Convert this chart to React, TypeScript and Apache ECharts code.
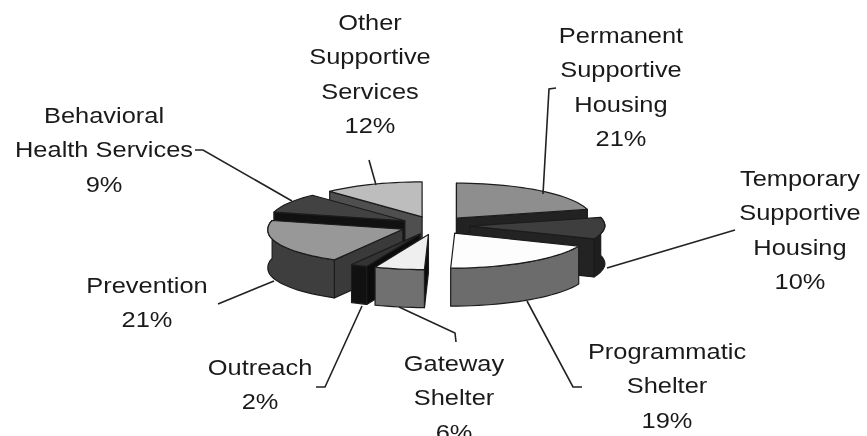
import React, { useEffect, useRef } from "react";
import * as echarts from "echarts";

const names = [
  "Permanent\nSupportive\nHousing",
  "Temporary\nSupportive\nHousing",
  "Programmatic\nShelter",
  "Gateway\nShelter",
  "Outreach",
  "Prevention",
  "Behavioral\nHealth Services",
  "Other\nSupportive\nServices",
];
const values = [21, 10, 19, 6, 2, 21, 9, 12];
const topColors = ["#8e8e8e", "#3e3e3e", "#fdfdfd", "#efefef", "#333333", "#989898", "#424242", "#bdbdbd"];
const wallColors = ["#2a2a2a", "#1e1e1e", "#6c6c6c", "#707070", "#111111", "#3e3e3e", "#222222", "#555555"];
const faceColors = ["#222222", "#232323", "#333333", "#0c0c0c", "#0c0c0c", "#3a3a3a", "#111111", "#4f4f4f"];

// [x centre, y of first line centre]
const labelAnchors = [
  [621, 35], [800, 178], [667, 351], [454, 363], [260, 367], [147, 285], [104, 115], [370, 22],
];
const leaders = [
  [[556, 88], [549, 89], [543, 194]],
  [[735, 230], [607, 268]],
  [[582, 387], [573, 387], [527, 301]],
  [[456, 342], [455, 333], [399, 307]],
  [[316, 387], [325, 387], [362, 306]],
  [[218, 304], [274, 281]],
  [[195, 150], [203, 150], [292, 201]],
  [[369, 160], [376, 185]],
];

const CX = 435, CY = 225.5, EXPLODE = 35, TILT = 0.265, RX = 135, RY = 35, DEPTH = 38, LEAN = 4;
const TEXT_STRETCH = 1.13;
const rad = (d: number) => (d * Math.PI) / 180;
const total = values.reduce((a, b) => a + b, 0);

function sliceAngles(i: number) {
  let sum = 0;
  for (let k = 0; k < i; k++) sum += values[k];
  return [(sum / total) * 360, ((sum + values[i]) / total) * 360];
}

function renderSlice(params: any, api: any) {
  const i = api.value(1) as number;
  const [a1, a2] = sliceAngles(i);
  const mid = (a1 + a2) / 2;
  const ax = CX + EXPLODE * Math.sin(rad(mid));
  const ay = CY - EXPLODE * TILT * Math.cos(rad(mid));
  const rim = (deg: number, dz = 0) => [
    ax + RX * Math.sin(rad(deg)) + LEAN * Math.min(0, Math.cos(rad(deg))),
    ay - RY * Math.cos(rad(deg)) + dz,
  ];
  const arc = (from: number, to: number, dz = 0) => {
    const n = Math.max(2, Math.ceil((to - from) / 3));
    const pts: number[][] = [];
    for (let k = 0; k <= n; k++) pts.push(rim(from + ((to - from) * k) / n, dz));
    return pts;
  };
  const stroke = { stroke: "#1c1c1c", lineWidth: 1.2, lineJoin: "round" };
  const children: any[] = [];
  const radial = (deg: number) => {
    const p = rim(deg), q = rim(deg, DEPTH);
    children.push({
      type: "polygon",
      shape: { points: [[ax, ay], p, q, [ax, ay + DEPTH]] },
      style: { fill: faceColors[i], ...stroke },
    });
  };
  if (Math.sin(rad(a1)) < 0.01) radial(a1);
  if (Math.sin(rad(a2)) > 0.01) radial(a2);
  const w1 = Math.max(a1, 75), w2 = Math.min(a2, 285);
  if (w2 > w1) {
    children.push({
      type: "polygon",
      shape: { points: [...arc(w1, w2), ...arc(w1, w2, DEPTH).reverse()] },
      style: { fill: wallColors[i], ...stroke },
    });
  }
  children.push({
    type: "polygon",
    shape: { points: [[ax, ay], ...arc(a1, a2)] },
    style: { fill: topColors[i], ...stroke },
  });
  return { type: "group", children };
}

export default function App() {
  const ref = useRef<HTMLDivElement>(null);
  useEffect(() => {
    document.body.style.margin = "0";
    const chart = echarts.init(ref.current!, undefined, { renderer: "svg" });
    const order = values
      .map((v, i) => {
        const [a, b] = sliceAngles(i);
        return { v, i, c: Math.cos(rad((a + b) / 2)) };
      })
      .sort((p, q) => q.c - p.c);
    chart.setOption({
      animation: false,
      backgroundColor: "#fff",
      series: [
        {
          type: "custom",
          coordinateSystem: "none",
          renderItem: renderSlice,
          data: order.map((o) => [o.v, o.i]),
          silent: true,
        },
      ],
      graphic: [
        ...leaders.map((pts) => ({
          type: "polyline",
          shape: { points: pts },
          style: { stroke: "#222222", lineWidth: 1.6, fill: "none" },
          z: 5,
        })),
        ...names.map((n, i) => ({
          type: "text",
          x: labelAnchors[i][0],
          y: labelAnchors[i][1] - 17.2,
          scaleX: TEXT_STRETCH,
          z: 6,
          style: {
            text: `${n}\n${values[i]}%`,
            fontFamily: "Liberation Sans",
            fontSize: 22.5,
            lineHeight: 34.4,
            fill: "#1a1a1a",
            align: "center",
            verticalAlign: "top",
          },
        })),
      ],
    });
    return () => chart.dispose();
  }, []);
  return (
    <div
      ref={ref}
      style={{ width: 867, height: 436, background: "#fff", filter: "blur(0.7px)" }}
    />
  );
}
